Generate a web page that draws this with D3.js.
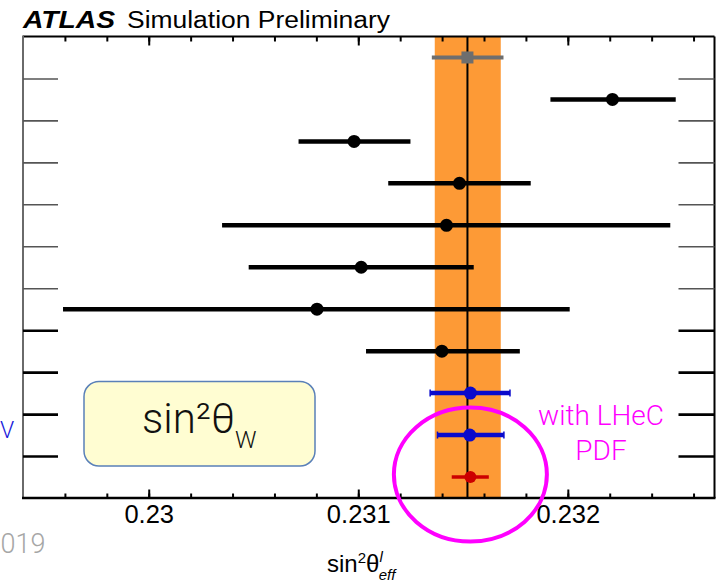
<!DOCTYPE html>
<html>
<head>
<meta charset="utf-8">
<script src="https://cdn.jsdelivr.net/npm/d3@7"></script>
<style>
  body { margin: 0; background: #fff; }
  svg { display: block; }
</style>
</head>
<body>
<div class="container"></div>
<script>
const w = 719;
const h = 585;
const pad = {top: 36.5, right: 4.5, bottom: 87, left: 23};

// rows from top to bottom (labels are cut off in the original picture)
const rows = ['ref', 'm1', 'm2', 'm3', 'm4', 'm5', 'm6', 'm7', 'lhec1', 'lhec2', 'lhec3'];
const centers = [0.231521, 0.232213, 0.230980, 0.231483, 0.231421, 0.231014, 0.230803, 0.231399, 0.231535, 0.231532, 0.231535];
const lows    = [0.231351, 0.231917, 0.230715, 0.231143, 0.230350, 0.230477, 0.229591, 0.231037, 0.231343, 0.231378, 0.231446];
const highs   = [0.231693, 0.232515, 0.231249, 0.231823, 0.232489, 0.231551, 0.232009, 0.231771, 0.231724, 0.231695, 0.231623];
const kinds   = ['ref', 'meas', 'meas', 'meas', 'meas', 'meas', 'meas', 'meas', 'blue', 'blue', 'red'];

// average band + line
const bandLow = 0.231365;
const bandHigh = 0.231680;
const bandCenter = 0.231521;

const xMajor = [0.230, 0.231, 0.232];
const xTickLabels = ['0.23', '0.231', '0.232'];
const xMinor = d3.range(0.2296, 0.2327, 0.0002);

const colors = {ref: '#6e6e6e', meas: '#000000', blue: '#0a0acc', red: '#cc0000'};

// create svg area
const svg = d3.select('.container')
              .append('svg')
              .attr('height', h)
              .attr('width', w)
              .style('font-family', '"Liberation Sans", Arial, sans-serif');

const xScale = d3.scaleLinear()
                 .domain([0.2294, 0.2327])
                 .range([pad.left, w - pad.right]);
const yScale = d3.scaleLinear()
                 .domain([0, rows.length])
                 .range([pad.top, h - pad.bottom]);

const yTop = yScale(0), yBottom = yScale(rows.length);

// orange band
svg.append('rect')
   .attr('x', xScale(bandLow))
   .attr('width', xScale(bandHigh) - xScale(bandLow))
   .attr('y', yTop)
   .attr('height', yBottom - yTop)
   .style('fill', '#fd9a36');

svg.append('line')
   .attr('x1', xScale(bandCenter)).attr('x2', xScale(bandCenter))
   .attr('y1', yTop).attr('y2', yBottom)
   .style('stroke', '#000').style('stroke-width', 2);

// frame
svg.append('line').attr('x1', pad.left).attr('x2', w - pad.right).attr('y1', yTop).attr('y2', yTop)
   .style('stroke', '#000').style('stroke-width', 2);
svg.append('line').attr('x1', w - pad.right).attr('x2', w - pad.right).attr('y1', yTop).attr('y2', yBottom)
   .style('stroke', '#000').style('stroke-width', 2);
svg.append('line').attr('x1', pad.left).attr('x2', pad.left).attr('y1', yTop - 1).attr('y2', yBottom + 1)
   .style('stroke', '#6a6a6a').style('stroke-width', 2);

// x axes (minor + major, bottom and top)
const axisStyle = (g, width) => {
  g.select('.domain').remove();
  g.selectAll('line').style('stroke', '#000').style('stroke-width', width);
};
svg.append('g')
   .attr('transform', `translate(0, ${yBottom})`)
   .call(d3.axisBottom(xScale).tickValues(xMinor).tickSize(-4.5).tickFormat(''))
   .call(g => axisStyle(g, 2));
svg.append('g')
   .attr('transform', `translate(0, ${yBottom})`)
   .call(d3.axisBottom(xScale).tickValues(xMajor).tickSize(-8.5).tickPadding(7)
         .tickFormat((d, i) => xTickLabels[i]))
   .call(g => axisStyle(g, 2))
   .call(g => g.selectAll('text')
               .style('font-family', '"Liberation Sans", Arial, sans-serif')
               .style('font-size', '25.5px')
               .style('fill', '#000'));
svg.append('g')
   .attr('transform', `translate(0, ${yTop})`)
   .call(d3.axisTop(xScale).tickValues(xMinor).tickSize(-5).tickFormat(''))
   .call(g => axisStyle(g, 2));
svg.append('g')
   .attr('transform', `translate(0, ${yTop})`)
   .call(d3.axisTop(xScale).tickValues(xMajor).tickSize(-9).tickFormat(''))
   .call(g => axisStyle(g, 2));

svg.append('line').attr('x1', pad.left - 1).attr('x2', w - pad.right + 1).attr('y1', yBottom).attr('y2', yBottom)
   .style('stroke', '#000').style('stroke-width', 2.5);

// y ticks between rows (left + right)
const yTicks = d3.range(1, rows.length);
const tickColor = (d) => d <= 6 ? '#555' : '#000';
const tickWidth = (d) => d <= 6 ? 1.6 : 2.6;
svg.append('g')
   .attr('transform', `translate(${pad.left}, 0)`)
   .call(d3.axisLeft(yScale).tickValues(yTicks).tickSize(-35).tickFormat(''))
   .call(g => g.select('.domain').remove())
   .call(g => g.selectAll('line').style('stroke', tickColor).style('stroke-width', tickWidth));
svg.append('g')
   .attr('transform', `translate(${w - pad.right}, 0)`)
   .call(d3.axisRight(yScale).tickValues(yTicks).tickSize(-36).tickFormat(''))
   .call(g => g.select('.domain').remove())
   .call(g => g.selectAll('line').style('stroke', tickColor).style('stroke-width', tickWidth));

// error bars
const points = rows.map((r, i) => ({id: r, c: centers[i], lo: lows[i], hi: highs[i], kind: kinds[i], i: i}));

svg.selectAll('line.err')
   .data(points)
   .enter()
   .append('line')
   .attr('class', 'err')
   .attr('x1', d => xScale(d.lo))
   .attr('x2', d => xScale(d.hi))
   .attr('y1', d => yScale(d.i + 0.5))
   .attr('y2', d => yScale(d.i + 0.5))
   .style('stroke', d => colors[d.kind])
   .style('stroke-width', d => d.kind === 'red' ? 3.5 : (d.kind === 'ref' ? 4 : 4.5));

// small end caps on the blue bars
const caps = points.filter(d => d.kind === 'blue').flatMap(d => [{x: d.lo, i: d.i}, {x: d.hi, i: d.i}]);
svg.selectAll('line.cap')
   .data(caps)
   .enter()
   .append('line')
   .attr('class', 'cap')
   .attr('x1', d => xScale(d.x)).attr('x2', d => xScale(d.x))
   .attr('y1', d => yScale(d.i + 0.5) - 3.5)
   .attr('y2', d => yScale(d.i + 0.5) + 3.5)
   .style('stroke', colors.blue).style('stroke-width', 1.5);

svg.selectAll('circle.dot')
   .data(points.filter(d => d.kind !== 'ref'))
   .enter()
   .append('circle')
   .attr('class', 'dot')
   .attr('cx', d => xScale(d.c))
   .attr('cy', d => yScale(d.i + 0.5))
   .attr('r', d => d.kind === 'red' ? 6 : 6.5)
   .style('fill', d => colors[d.kind]);

svg.selectAll('rect.ref')
   .data(points.filter(d => d.kind === 'ref'))
   .enter()
   .append('rect')
   .attr('class', 'ref')
   .attr('x', d => xScale(d.c) - 6)
   .attr('y', d => yScale(d.i + 0.5) - 6)
   .attr('width', 12)
   .attr('height', 12)
   .style('fill', colors.ref);

// title
svg.append('text')
   .text('ATLAS')
   .attr('x', 23).attr('y', 27.5)
   .attr('textLength', 92).attr('lengthAdjust', 'spacingAndGlyphs')
   .style('font-size', '23px').style('font-weight', 'bold').style('font-style', 'italic');
svg.append('text')
   .text('Simulation Preliminary')
   .attr('x', 127).attr('y', 27.5)
   .attr('textLength', 263).attr('lengthAdjust', 'spacingAndGlyphs')
   .style('font-size', '23px');

// x title
const xTitle = svg.append('text')
                  .attr('x', 327).attr('y', 572)
                  .style('font-size', '24px');
xTitle.append('tspan').text('sin');
xTitle.append('tspan').text('2').attr('dy', -9).style('font-size', '15px');
xTitle.append('tspan').text('θ').attr('dy', 9);
xTitle.append('tspan').text('l').attr('dy', -10).style('font-size', '15px').style('font-style', 'italic');
xTitle.append('tspan').text('eff').attr('dx', -4).attr('dy', 18).style('font-size', '15px').style('font-style', 'italic');

// texts cut off at the left edge of the original picture
svg.append('text')
   .text('019')
   .attr('x', 0.5).attr('y', 553)
   .style('font-family', 'Roboto, sans-serif').style('font-weight', 300)
   .style('font-size', '27px').style('fill', '#a6a6a6');
svg.append('text')
   .text('V')
   .attr('x', 0).attr('y', 438)
   .style('font-family', 'Roboto, sans-serif').style('font-weight', 300)
   .style('font-size', '23px').style('fill', '#1a1adb');

// yellow label box
svg.append('rect')
   .attr('x', 84).attr('y', 381.5)
   .attr('width', 231).attr('height', 84.5)
   .attr('rx', 15).attr('ry', 15)
   .style('fill', '#fffdd2')
   .style('stroke', '#5a80b8')
   .style('stroke-width', 1.5);
const boxText = svg.append('text')
                   .attr('x', 142).attr('y', 433)
                   .style('font-family', 'Roboto, sans-serif').style('font-weight', 300)
                   .style('font-size', '42px').style('fill', '#111');
boxText.append('tspan').text('sin²θ');
boxText.append('tspan').text('W').attr('dy', 15).style('font-size', '24px');

// magenta annotation
svg.append('ellipse')
   .attr('cx', xScale(centers[10]))
   .attr('cy', yScale(10.5) - 2.5)
   .attr('rx', 76.5).attr('ry', 67)
   .style('fill', 'none')
   .style('stroke', '#ff00ff')
   .style('stroke-width', 4);
svg.append('text')
   .attr('x', 601).attr('y', 425)
   .attr('text-anchor', 'middle')
   .style('font-family', 'Roboto, sans-serif').style('font-weight', 300)
   .style('font-size', '28px').style('fill', '#ff00ff')
   .text('with LHeC');
svg.append('text')
   .attr('x', 601).attr('y', 460)
   .attr('text-anchor', 'middle')
   .style('font-family', 'Roboto, sans-serif').style('font-weight', 300)
   .style('font-size', '28px').style('fill', '#ff00ff')
   .text('PDF');
</script>
</body>
</html>
